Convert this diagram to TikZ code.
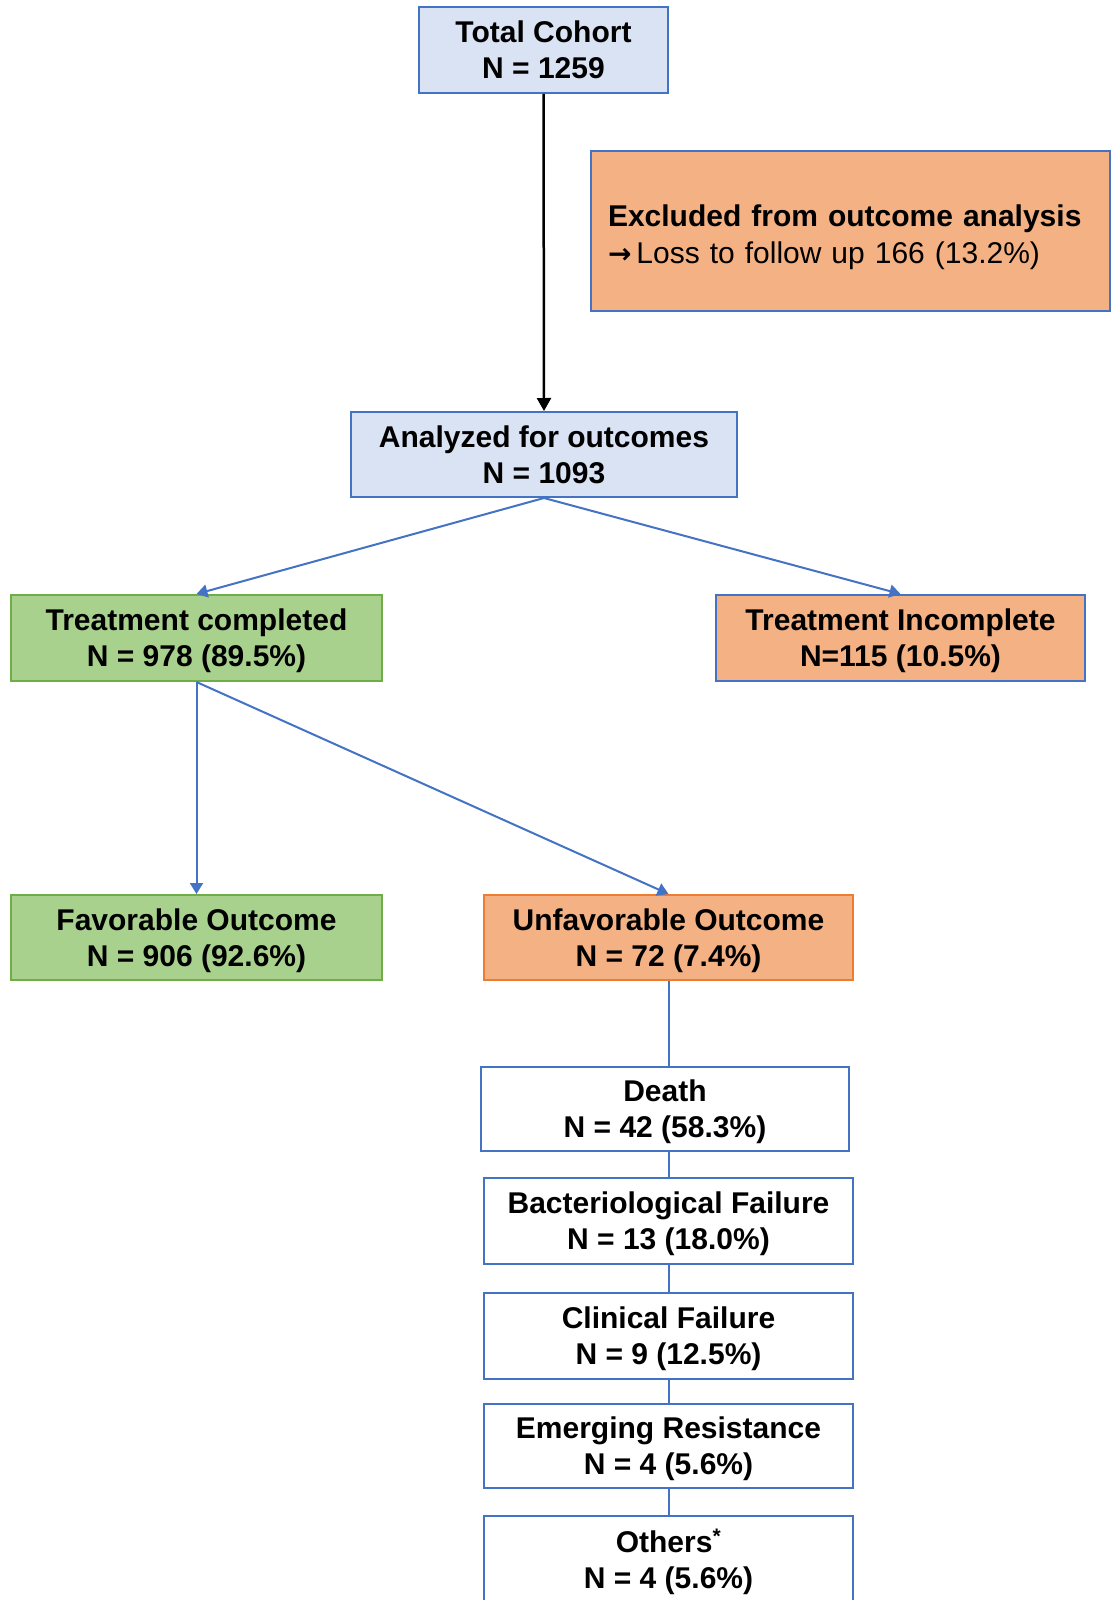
\documentclass[tikz,border=0pt]{standalone}
\usepackage{fontspec}
\setmainfont{Liberation Sans}
\usetikzlibrary{arrows.meta}
\definecolor{bluefill}{HTML}{DAE3F3}
\definecolor{blueline}{HTML}{4472C4}
\definecolor{greenfill}{HTML}{A9D18E}
\definecolor{greenline}{HTML}{70AD47}
\definecolor{orangefill}{HTML}{F4B183}
\definecolor{orangeline}{HTML}{ED7D31}
\tikzset{
  box/.style={draw=blueline, line width=2pt, inner sep=0pt, align=center, text depth=0pt,
    font=\fontsize{30}{36}\selectfont\bfseries},
  bluebox/.style={box, fill=bluefill},
  greenbox/.style={box, fill=greenfill, draw=greenline},
  orangebox/.style={box, fill=orangefill},
  unfbox/.style={box, fill=orangefill, draw=orangeline},
  whitebox/.style={box, fill=white},
  conn/.style={draw=blueline, line width=2pt},
  arr/.style={conn, -{Triangle[width=13pt,length=11pt]}},
  blackarr/.style={draw=black, line width=2.5pt, -{Triangle[width=14pt,length=13pt]}}
}
\begin{document}
\begin{tikzpicture}[x=1pt,y=-1pt]
\clip (0,0) rectangle (1114,1600);
\fill[white] (0,0) rectangle (1114,1600);

\node[bluebox, minimum width=249pt, minimum height=86pt] (total) at (543.5,50) {Total Cohort\\N = 1259};
\node[orangebox, minimum width=519pt, minimum height=160pt, text width=485pt, inner xsep=17pt, align=left,
  text depth=31pt, font=\fontsize{30}{37}\selectfont] (excl) at (850.5,231)
  {\textbf{Excluded from outcome analysis}\\{\fontspec{DejaVu Sans}\bfseries\fontsize{28}{37}\selectfont →}\,Loss to follow up 166 (13.2\%)};
\node[bluebox, minimum width=386pt, minimum height=85pt] (anal) at (544,454.5) {Analyzed for outcomes\\N = 1093};
\node[greenbox, minimum width=371pt, minimum height=86pt] (tc) at (196.5,638) {Treatment completed\\N = 978 (89.5\%)};
\node[orangebox, minimum width=369pt, minimum height=86pt] (ti) at (900.5,638) {Treatment Incomplete\\N=115 (10.5\%)};
\node[greenbox, minimum width=371pt, minimum height=85pt] (fav) at (196.5,937.5) {Favorable Outcome\\N = 906 (92.6\%)};
\node[unfbox, minimum width=369pt, minimum height=85pt] (unf) at (668.5,937.5) {Unfavorable Outcome\\N = 72 (7.4\%)};
\node[whitebox, minimum width=368pt, minimum height=84pt] (death) at (665,1109) {Death\\N = 42 (58.3\%)};
\node[whitebox, minimum width=369pt, minimum height=86pt] (bact) at (668.5,1221) {Bacteriological Failure\\N = 13 (18.0\%)};
\node[whitebox, minimum width=369pt, minimum height=86pt] (clin) at (668.5,1336) {Clinical Failure\\N = 9 (12.5\%)};
\node[whitebox, minimum width=369pt, minimum height=84pt] (emer) at (668.5,1446) {Emerging Resistance\\N = 4 (5.6\%)};
\node[whitebox, minimum width=369pt, minimum height=130pt] (oth) at (668.5,1581) {};
\node[font=\fontsize{30}{36}\selectfont\bfseries, align=center, anchor=north, inner sep=0pt] (othtxt) at (668.5,1529) {Others\textsuperscript{*}\\N = 4 (5.6\%)};

\draw[blackarr] (total.south) -- (anal.north);
\draw[arr] (anal.south) -- (tc.north);
\draw[arr] (anal.south) -- (ti.north);
\draw[arr] (tc.south) -- (fav.north);
\draw[arr] (tc.south) -- (unf.north);
\draw[conn] (unf.south) -- (unf.south |- death.north);
\draw[conn] (unf.south |- death.south) -- (bact.north);
\draw[conn] (bact.south) -- (clin.north);
\draw[conn] (clin.south) -- (emer.north);
\draw[conn] (emer.south) -- (oth.north);
\end{tikzpicture}
\end{document}
